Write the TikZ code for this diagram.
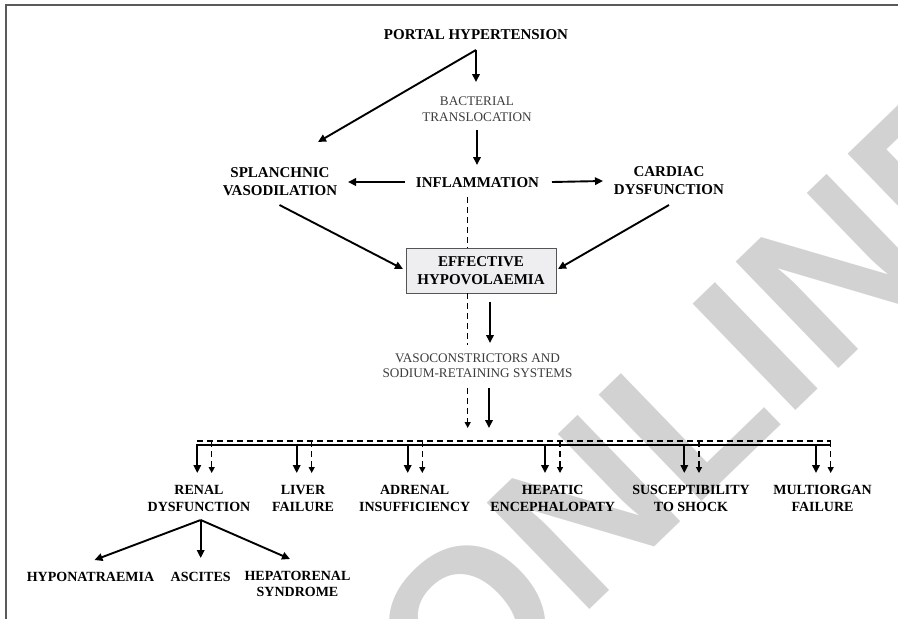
\documentclass[tikz,border=0pt]{standalone}
\usepackage{fontspec}
\setmainfont{Liberation Serif}
\setsansfont{Liberation Sans}
\usetikzlibrary{arrows.meta}
\definecolor{midgray}{HTML}{3C3C3C}
\definecolor{boxfill}{HTML}{EEEEF0}
\definecolor{boxline}{HTML}{555555}
\definecolor{framec}{HTML}{5A5A5A}
\definecolor{wmc}{HTML}{D2D2D2}
\begin{document}
\begin{tikzpicture}[x=1pt,y=-1pt,
  lbl/.style={font=\fontsize{15}{18}\selectfont\bfseries, align=center, inner sep=0pt},
  sub/.style={font=\fontsize{14}{16.5}\selectfont\bfseries, align=center, inner sep=0pt},
  mid/.style={font=\fontsize{13.2}{15.5}\selectfont, text=midgray, align=center, inner sep=0pt},
  arr/.style={line width=1.9pt, -{Triangle[length=8pt,width=7.5pt]}},
  darr/.style={line width=1.3pt, dash pattern=on 6pt off 4pt, -{Triangle[length=6pt,width=6pt]}},
  dline/.style={line width=1.3pt, dash pattern=on 6pt off 4pt},
  sline/.style={line width=1.9pt},
  wm/.style={text=wmc, font=\fontsize{215}{215}\selectfont\sffamily\bfseries, inner sep=0pt}
]
\useasboundingbox (0,0) rectangle (898,619);
% watermark
\node[wm, rotate=44] (wmk) at (700,400) {ONLINE};
% frame
\draw[framec, line width=1.5pt] (6,619) -- (6,5) -- (898,5);

% nodes
\node[lbl] (ph) at (476,35) {PORTAL HYPERTENSION};
\node[mid] (bt) at (477,109) {BACTERIAL\\TRANSLOCATION};
\node[lbl] (inf) at (477.5,182.5) {INFLAMMATION};
\node[lbl] (sv) at (280,182) {SPLANCHNIC\\VASODILATION};
\node[lbl] (cd) at (669,181) {CARDIAC\\DYSFUNCTION};
\node[lbl, draw=boxline, fill=boxfill, line width=1pt, minimum width=150pt, minimum height=45pt] (eh) at (481,270.5) {EFFECTIVE\\HYPOVOLAEMIA};
\node[mid] (vc) at (477.5,365.5) {VASOCONSTRICTORS AND\\SODIUM-RETAINING SYSTEMS};
\node[sub] (renal) at (199,498.5) {RENAL\\DYSFUNCTION};
\node[sub] (liver) at (303,498.5) {LIVER\\FAILURE};
\node[sub] (adr) at (414.7,498.5) {ADRENAL\\INSUFFICIENCY};
\node[sub] (hep) at (552.7,498.5) {HEPATIC\\ENCEPHALOPATY};
\node[sub] (shock) at (691,498.5) {SUSCEPTIBILITY\\TO SHOCK};
\node[sub] (multi) at (822.5,498.5) {MULTIORGAN\\FAILURE};
\node[sub] (hypo) at (90.5,577) {HYPONATRAEMIA};
\node[sub] (asc) at (200.7,577) {ASCITES};
\node[sub] (hrs) at (297.5,584) {HEPATORENAL\\SYNDROME};

% connector points
\coordinate (phapex) at (476,50);
\coordinate (btin) at (476,82);
\coordinate (svin) at (318,142);
\coordinate (btout) at (477,130);
\coordinate (infin) at (477,165);
\coordinate (infl) at (405,182);
\coordinate (svr) at (348,182);
\coordinate (infr) at (552,182);
\coordinate (cdl) at (603,181);
\coordinate (svout) at (279.5,205);
\coordinate (svend) at (403,269);
\coordinate (cdout) at (669,205);
\coordinate (cdend) at (558,269);
\coordinate (infd) at (467.7,197);
\coordinate (ehtop) at (467.7,248);
\coordinate (ehd) at (467.7,293);
\coordinate (vctopd) at (467.7,345);
\coordinate (ehs) at (490,302);
\coordinate (vctops) at (490,343);
\coordinate (vcbotd) at (467.7,388);
\coordinate (busind) at (467.7,428);
\coordinate (vcbots) at (489,388);
\coordinate (busins) at (489,428);
\coordinate (busl) at (197,445);
\coordinate (busr) at (830,445);
\coordinate (dbusl) at (197,441);
\coordinate (dbusr) at (830.7,441);
\coordinate (rapex) at (200.7,520);

% top part
\draw[arr] (phapex) -- (btin);
\draw[arr] (phapex) -- (svin);
\draw[arr] (btout) -- (infin);
\draw[arr] (infl) -- (svr);
\draw[arr] (infr) -- (cdl);
\draw[arr] (svout) -- (svend);
\draw[arr] (cdout) -- (cdend);
\draw[dline] (infd) -- (ehtop);
\draw[dline] (ehd) -- (vctopd);
\draw[arr] (ehs) -- (vctops);
\draw[darr] (vcbotd) -- (busind);
\draw[arr] (vcbots) -- (busins);

% buses
\draw[dline] (dbusl) -- (dbusr);
\draw[sline] (busl) -- (busr);

% drops
\foreach \s/\d/\n in {197.3/211.7/renal, 296.7/311.7/liver, 407.7/422.3/adr, 545/560/hep, 684.3/699/shock, 816/830.7/multi}{
  \draw[arr] (\s,444) -- (\s,473);
  \draw[darr] (\d,441) -- (\d,473);
}

% renal sub-arrows
\draw[arr] (rapex) -- (94.5,560);
\draw[arr] (rapex) -- (200.7,558);
\draw[arr] (rapex) -- (290,559);
\end{tikzpicture}
\end{document}
